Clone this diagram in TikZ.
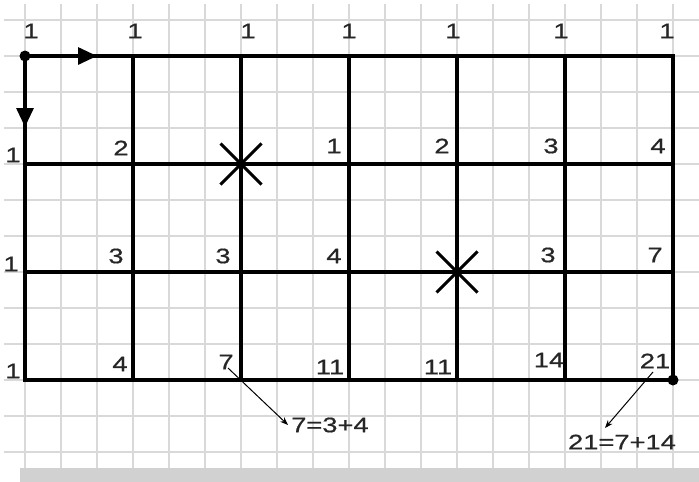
\documentclass[tikz,border=0pt]{standalone}
\usepackage{fontspec}
\setmainfont[FakeStretch=1.3,FakeBold=0.6]{Liberation Sans}
\usetikzlibrary{arrows.meta,shapes.misc}
\begin{document}
\begin{tikzpicture}[x=1pt,y=-1pt,
  thingrid/.style={draw=black!15,line width=1.6pt},
  bold/.style={line width=3.2pt,line cap=rect},
  num/.style={inner sep=0pt,font=\fontsize{21}{24}\selectfont,text=black!85},
  xmark/.style={cross out,draw,line width=3pt,minimum size=38pt,inner sep=0pt},
  pointer/.style={line width=1pt,-{Stealth[length=8pt,width=6pt]}},
  dirarrow/.style={line width=3.2pt,-{Triangle[length=19pt,width=17pt]}},
  dot/.style={circle,fill=black,inner sep=0pt,minimum size=11pt}]
\useasboundingbox (0,0) rectangle (699,482);
\fill[white] (0,0) rectangle (699,482);
% light squared paper
\foreach \k in {0,...,18} \draw[thingrid] ({25+36*\k},4) -- ({25+36*\k},468);
\foreach \k in {0,...,12} \draw[thingrid] (4,{20+36*\k}) -- (699,{20+36*\k});
\fill[black!18] (20,468) rectangle (699,482);
% lattice points
\foreach \i in {0,...,6} \foreach \j in {0,...,3} \coordinate (g-\i-\j) at ({25+108*\i},{56+108*\j});
\foreach \i in {0,...,6} \draw[bold] (g-\i-0) -- (g-\i-3);
\foreach \j in {0,...,3} \draw[bold] (g-0-\j) -- (g-6-\j);
% direction arrows
\coordinate (tipR) at (97,56);
\coordinate (tipD) at (25,127);
\draw[dirarrow] (g-0-0) -- (tipR);
\draw[dirarrow] (g-0-0) -- (tipD);
\node[dot] (start) at (g-0-0) {};
\node[dot] (finish) at (g-6-3) {};
% blocked crossings
\node[xmark] (x1) at (g-2-1) {};
\node[xmark] (x2) at (g-4-2) {};
% numbers
\node[num] (t0) at (31,31) {1};
\node[num] (t1) at (135,31) {1};
\node[num] (t2) at (248,31) {1};
\node[num] (t3) at (349,31) {1};
\node[num] (t4) at (453,31) {1};
\node[num] (t5) at (561,31) {1};
\node[num] (t6) at (667,31) {1};
\node[num] (r1l) at (13,155) {1};
\node[num] (r1a) at (121,148) {2};
\node[num] (r1c) at (334,146) {1};
\node[num] (r1d) at (442,146) {2};
\node[num] (r1e) at (551,146) {3};
\node[num] (r1f) at (658,146) {4};
\node[num] (r2l) at (11,264) {1};
\node[num] (r2a) at (116,256) {3};
\node[num] (r2b) at (223,256) {3};
\node[num] (r2c) at (334,256) {4};
\node[num] (r2e) at (548,255) {3};
\node[num] (r2f) at (655,255) {7};
\node[num] (r3l) at (13,371) {1};
\node[num] (r3a) at (120,364) {4};
\node[num] (r3b) at (226,362) {7};
\node[num] (r3c) at (330,367) {11};
\node[num] (r3d) at (438,367) {11};
\node[num] (r3e) at (549,360) {14};
\node[num] (r3f) at (655,361) {21};
% explanations
\node[num,anchor=west,inner sep=3pt] (eq1) at (288,425) {7=3+4};
\node[num] (eq2) at (622,442) {21=7+14};
\coordinate (a1s) at (228,368);
\coordinate (a2s) at (653,372);
\coordinate (a2e) at (605,428);
\draw[pointer] (a1s) -- (eq1.west);
\draw[pointer] (a2s) -- (a2e);
\end{tikzpicture}
\end{document}
